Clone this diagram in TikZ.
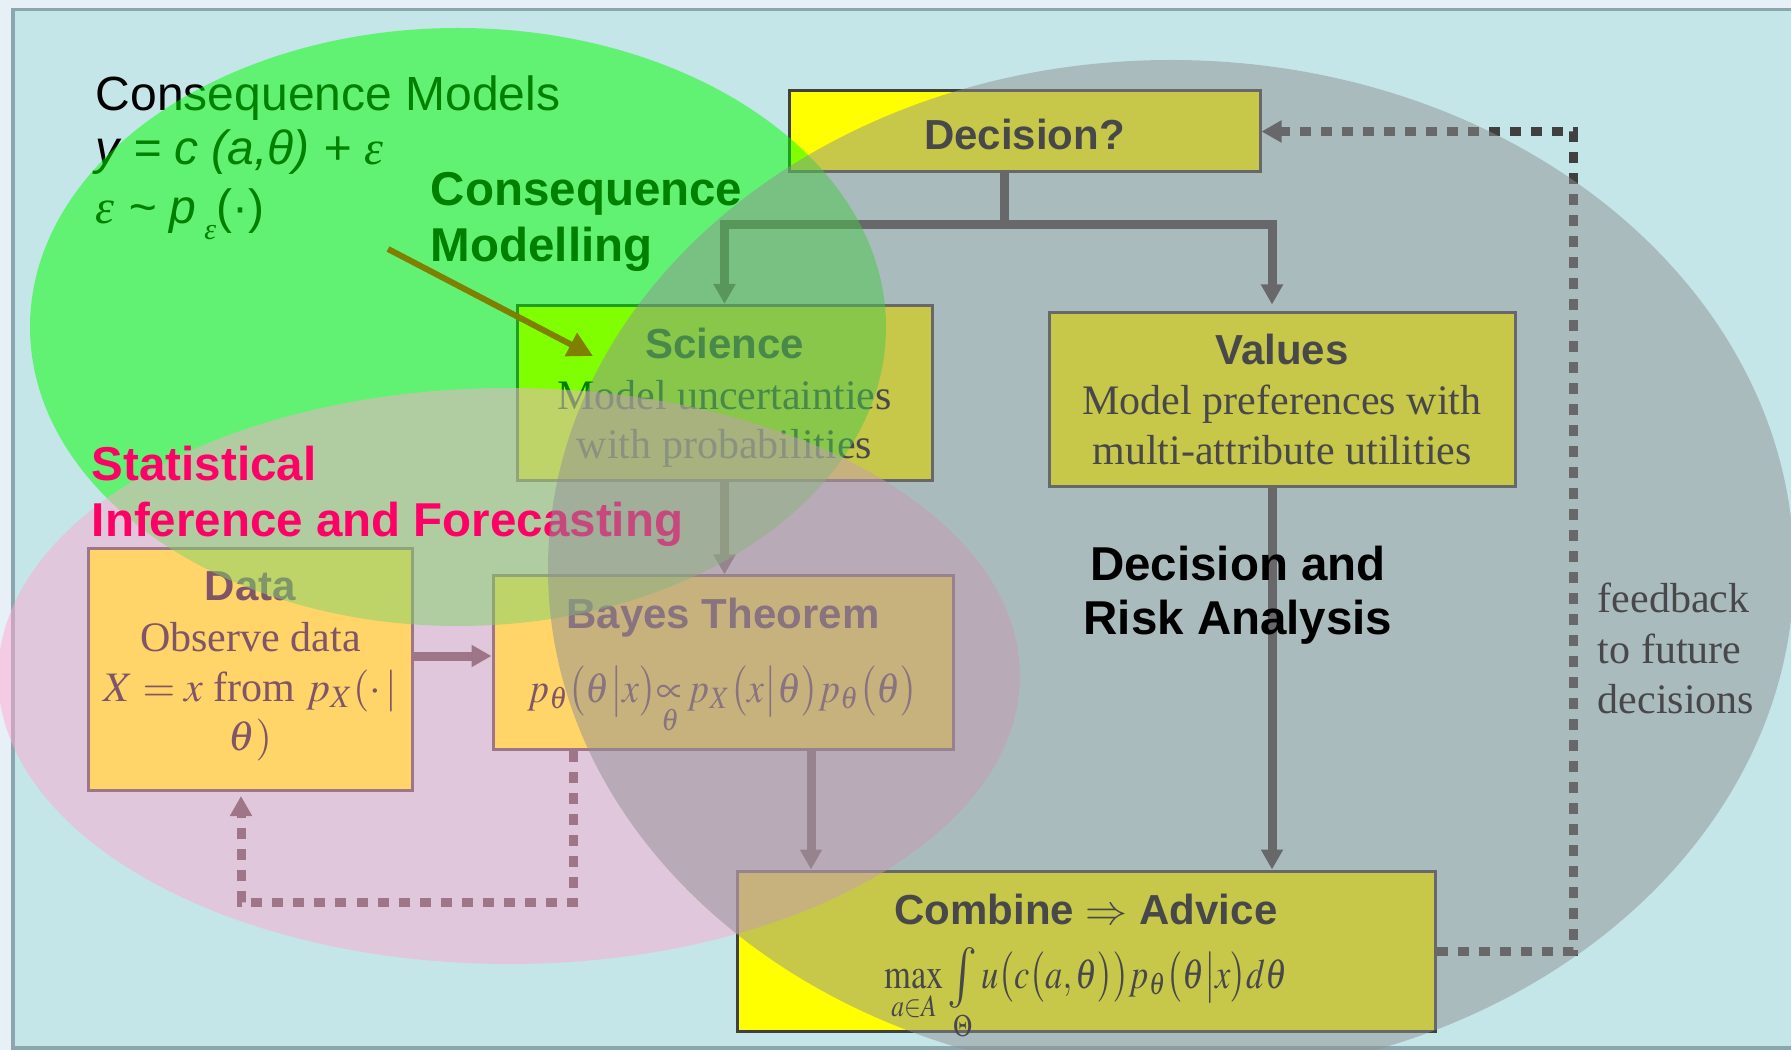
\documentclass[tikz,border=0pt]{standalone}
\usepackage{amsmath}
\usepackage{mathptmx}
\usepackage[no-math]{fontspec}
\setmainfont{Liberation Serif}
\setsansfont{Liberation Sans}
\usetikzlibrary{arrows.meta,calc}

\definecolor{outerbg}{RGB}{232,240,247}
\definecolor{framebg}{RGB}{196,230,232}
\definecolor{frameline}{RGB}{140,166,174}
\definecolor{boxyellow}{RGB}{255,255,0}
\definecolor{linkgrey}{RGB}{64,64,64}
\definecolor{greenblob}{RGB}{0,255,0}
\definecolor{pinkblob}{RGB}{255,170,208}
\definecolor{greyblob}{RGB}{145,145,148}
\definecolor{statpink}{RGB}{255,0,102}

\newcommand{\bodytext}{\rmfamily\fontsize{16.8}{19.6}\selectfont}
\newcommand{\headtext}{\sffamily\bfseries\fontsize{16.8}{19.6}\selectfont}
\newcommand{\bigsans}{\sffamily\fontsize{19.2}{22}\selectfont}
\newcommand{\bigbold}{\sffamily\bfseries\fontsize{19}{22}\selectfont}
% top and bottom struts for box texts
\newcommand{\topstrut}[1]{\rule{0pt}{#1}}
\newcommand{\botstrut}[1]{\rule[-#1]{0pt}{#1}}

\tikzset{every picture/.style={line width=0.75pt}}
\tikzset{
  stagebox/.style={draw=linkgrey, line width=1.2pt, fill=boxyellow, align=center, inner sep=0pt, font=\bodytext},
  link/.style={draw=linkgrey, line width=3.6pt},
  headtip/.style={-{Triangle[width=8.4pt,length=8pt]}},
  feedline/.style={draw=linkgrey, line width=3.6pt, dash pattern=on 4.4pt off 4pt},
  lbl/.style={anchor=base west, inner sep=0pt},
  blob/.style={fill opacity=0.5},
}

\begin{document}
\begin{tikzpicture}[x=0.4pt,y=0.4pt,yscale=-1,xscale=1]
\useasboundingbox (0,0) rectangle (1791,1050);

%Shape: Rectangle [background]
\fill[outerbg] (0,0) rectangle (1791,1050);
\draw[frameline, line width=1.4pt, fill=framebg] (13,9.5) rectangle (1820,1048);

%Shape: Boxes
\node[stagebox, minimum width=188.4pt, minimum height=32.4pt] (decision) at (1024.5,131.5)
  {\topstrut{23.6pt}\headtext Decision?\botstrut{8.8pt}};
\node[stagebox, minimum width=166pt, minimum height=69.6pt] (science) at (724.5,393)
  {\topstrut{21.2pt}{\headtext Science}\\[0.8pt]Model uncertainties\\with probabilities\botstrut{8.8pt}};
\node[stagebox, minimum width=186.4pt, minimum height=69.6pt] (values) at (1282,400)
  {\topstrut{20.8pt}{\headtext Values}\\[0.4pt]Model preferences with\\[0.4pt]multi-attribute utilities\botstrut{8.8pt}};
\node[stagebox, minimum width=129.2pt, minimum height=96.4pt] (data) at (250.5,669.5)
  {\topstrut{20.8pt}{\headtext Data}\\[0.8pt]Observe data\\[0.4pt]$X=x$ from $p_X(\cdot\,|$\\$\theta)$\botstrut{16pt}};
\node[stagebox, minimum width=184pt, minimum height=69.2pt] (bayes) at (723,662.5)
  {\topstrut{20.8pt}{\headtext Bayes Theorem}\\[10pt]\scalebox{0.9}[1]{$p_\theta\bigl(\theta\big|x\bigr){\underset{\theta}{\propto}}\,p_X\bigl(x\big|\theta\bigr)p_\theta\bigl(\theta\bigr)$}\botstrut{18.8pt}};
\node[stagebox, minimum width=279.2pt, minimum height=64pt] (combine) at (1086,951)
  {\topstrut{21.2pt}{\headtext Combine $\Rightarrow$ Advice}\\[6pt]\scalebox{0.82}[1]{$\smash[b]{\max\limits_{a\in A}\mathop{\vcenter{\hbox{\scalebox{1.45}{$\int$}}}}\limits_{\Theta}u\bigl(c\bigl(a,\theta\bigr)\bigr)p_\theta\bigl(\theta\big|x\bigr)d\theta}$}\botstrut{17.2pt}};

%Straight Lines [decision split]
\coordinate (split) at (1004,225);
\draw[link] (split |- decision.south) -- (split);
\draw[link,headtip] (split) -| (science.north);
\draw[link,headtip] (split) -| ($(values.north)+(-10,-7)$);

%Straight Lines
\draw[link,headtip] (science.south) -- (science.south |- bayes.north);
\draw[link,headtip] ($(data.east)+(0,-13.5)$) coordinate (dataout) -- (dataout -| bayes.west);
\draw[link,headtip] ($(bayes.south)+(88,0)$) coordinate (bayesout) -- (bayesout |- combine.north);
\draw[link,headtip] ($(values.south)+(-10,0)$) coordinate (valuesout) -- (valuesout |- combine.north);

%Dotted Lines [feedback]
\coordinate (fbcorner) at (1573,131.5);
\draw[feedline,headtip] (combine.east) -| (fbcorner) -- (decision.east);
\coordinate (loopcorner) at (241,902);
\draw[feedline,headtip,shorten >=1.6pt] ($(bayes.south)+(-150,0)$) |- (loopcorner) -- (loopcorner |- data.south);

%Straight Lines [consequence arrow]
\coordinate (cmtail) at (388,249);
\coordinate (cmtip) at (593,356);
\draw[draw=red, line width=2.4pt, -{Triangle[width=10pt,length=10pt]}] (cmtail) -- (cmtip);

% Text Node
\node[lbl, font=\bigsans] (cmtitle) at (95,111) {Consequence Models};
\node[lbl, font=\bigsans\itshape] (cmeq) at (95,165) {y = c (a,θ) + {\rmfamily ε}};
\node[lbl, font=\bigsans\itshape] (cmnoise) at (95,224) {{\rmfamily ε} \textasciitilde{} p\,\raisebox{-0.6ex}{\rmfamily\fontsize{12}{12}\selectfont ε}\upshape(·)};
\node[lbl, font=\bigbold] (cmod1) at (430,206) {Consequence};
\node[lbl, font=\bigbold] (cmod2) at (430,262) {Modelling};
\node[lbl, font=\bodytext] (fb1) at (1597,612) {feedback};
\node[lbl, font=\bodytext] (fb2) at (1597,663) {to future};
\node[lbl, font=\bodytext] (fb3) at (1597,713) {decisions};

%Shape: Ellipse [green]
\fill[greenblob, blob] (458,327) ellipse [x radius=428, y radius=299];
%Shape: Ellipse [pink]
\fill[pinkblob, blob] (509,676) ellipse [x radius=511, y radius=288];

% Text Node
\node[lbl, font=\bigbold, text=statpink] (stat1) at (91,481) {Statistical};
\node[lbl, font=\bigbold, text=statpink] (stat2) at (91,537) {Inference and Forecasting};

%Shape: Ellipse [grey]
\fill[greyblob, blob] (1171,569) ellipse [x radius=623, y radius=509];

% Text Node
\node[anchor=base, inner sep=0pt, font=\bigbold] (dra1) at (1238,580) {Decision and};
\node[anchor=base, inner sep=0pt, font=\bigbold] (dra2) at (1238,635) {Risk Analysis};

\end{tikzpicture}
\end{document}
